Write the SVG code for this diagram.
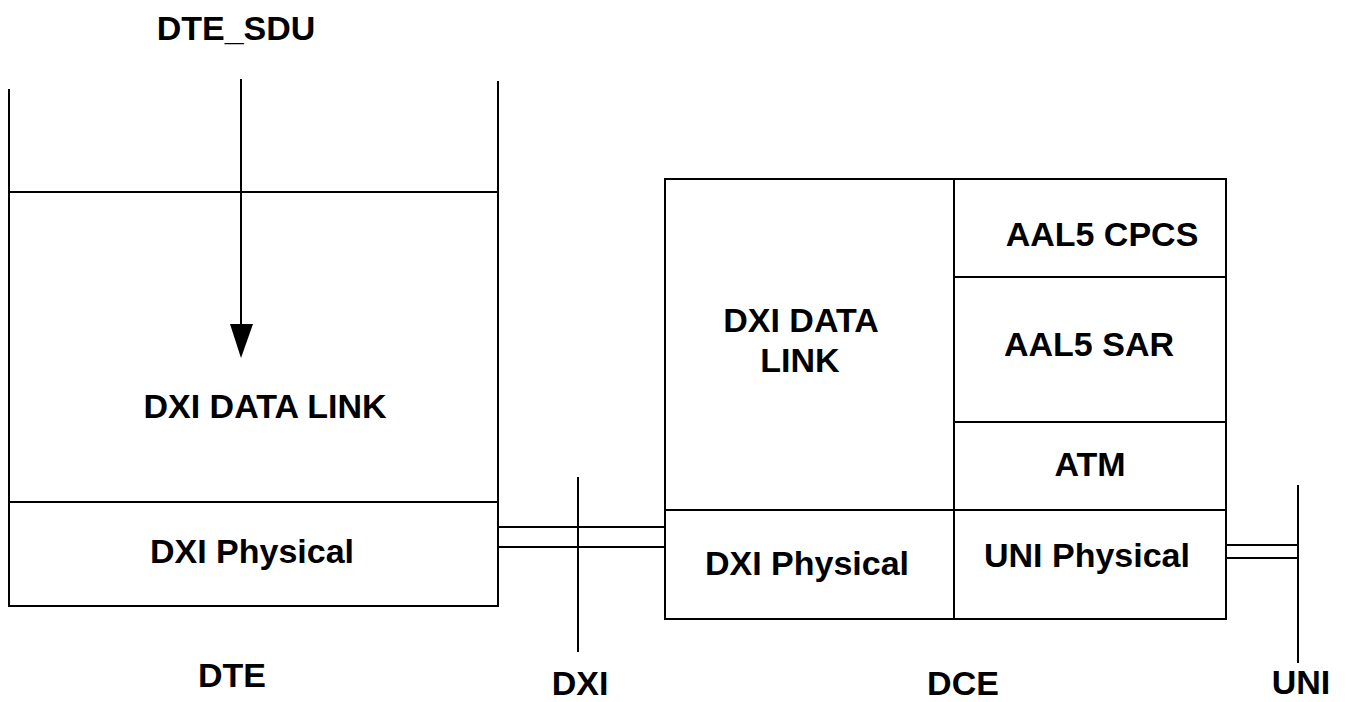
<svg xmlns="http://www.w3.org/2000/svg" width="1352" height="702" viewBox="0 0 1352 702">
<style>
.ln{stroke:#000;stroke-width:2;fill:none}
.t{font-family:"Liberation Sans",Arial,sans-serif;font-weight:bold;font-size:34px;fill:#000;text-anchor:middle}
</style>
<rect width="1352" height="702" fill="#fff"/>
<g id="dte">
<path class="ln" d="M9,89 V606 H498 V81 M9,192 H498 M9,502 H498"/>
<text class="t" x="265" y="418">DXI DATA LINK</text>
<text class="t" x="252" y="563">DXI Physical</text>
<text class="t" x="232" y="687">DTE</text>
</g>
<g id="dte_sdu">
<text class="t" x="236" y="40">DTE_SDU</text>
</g>
<g id="dce">
<rect class="ln" x="665" y="179" width="561" height="440"/>
<path class="ln" d="M954,179 V619 M665,510 H1226 M954,277 H1226 M954,422 H1226"/>
<text class="t" x="801" y="332">DXI DATA</text>
<text class="t" x="800" y="372">LINK</text>
<text class="t" x="1102" y="246">AAL5 CPCS</text>
<text class="t" x="1089" y="356">AAL5 SAR</text>
<text class="t" x="1090" y="476">ATM</text>
<text class="t" x="1087" y="567">UNI Physical</text>
<text class="t" x="807" y="575">DXI Physical</text>
<text class="t" x="963" y="695">DCE</text>
</g>
<g id="dxi">
<path class="ln" d="M578,477 V652"/>
<text class="t" x="580" y="695">DXI</text>
</g>
<g id="uni">
<path class="ln" d="M1298,485 V663"/>
<text class="t" x="1301" y="694">UNI</text>
</g>
<g id="connectors">
<path class="ln" d="M241,79 V330"/>
<polygon points="230,324 253,324 241,358" fill="#000"/>
<path class="ln" d="M498,527 H665 M498,547 H665"/>
<path class="ln" d="M1226,545 H1298 M1226,558 H1298"/>
</g>
</svg>
